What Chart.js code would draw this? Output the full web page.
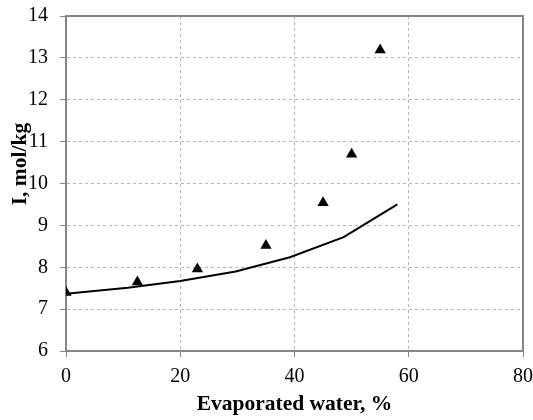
<!DOCTYPE html>
<html>
<head>
<meta charset="utf-8">
<script src="https://cdn.jsdelivr.net/npm/chart.js@4"></script>
<style>
html,body{margin:0;padding:0;background:#fff;}
#wrap{width:533px;height:420px;}
</style>
</head>
<body>
<div id="wrap"><canvas id="c" width="533" height="420"></canvas></div>
<script>
// Data
const expX = [0, 12.5, 23, 35, 45, 50, 55];
const expI = [7.40, 7.65, 7.96, 8.52, 9.54, 10.70, 13.19];
const calcX = [0, 10.8, 20, 29.7, 39.2, 48.6, 58];
const calcI = [7.37, 7.51, 7.67, 7.90, 8.24, 8.72, 9.50];
const xTicks = [0, 20, 40, 60, 80];
const yTicks = [6, 7, 8, 9, 10, 11, 12, 13, 14];
const xTitle = 'Evaporated water, %';
const yTitle = 'I, mol/kg';

const toPts = (xs, ys) => xs.map((x, i) => ({x: x, y: ys[i]}));
const FONT = "'Liberation Serif', 'Times New Roman', serif";
const GRID = '#b4b4b4';
const AXIS = '#868686';

const framePlugin = {
  id: 'frame',
  beforeDatasetsDraw(chart) {
    const {ctx, chartArea: a} = chart;
    ctx.save();
    ctx.strokeStyle = AXIS;
    ctx.lineWidth = 2;
    ctx.setLineDash([]);
    ctx.beginPath();
    ctx.moveTo(a.left, a.top);
    ctx.lineTo(a.right, a.top);
    ctx.lineTo(a.right, a.bottom);
    ctx.stroke();
    ctx.restore();
  }
};

// Y-axis title placed as in the reference (slightly above the plot centre)
const yTitlePlugin = {
  id: 'yTitle',
  afterDraw(chart) {
    const {ctx, chartArea: a} = chart;
    ctx.save();
    ctx.translate(26, a.top + (a.bottom - a.top) * 0.442);
    ctx.rotate(-Math.PI / 2);
    ctx.font = 'bold 21.5px ' + FONT;
    ctx.fillStyle = '#000';
    ctx.textAlign = 'center';
    ctx.textBaseline = 'alphabetic';
    ctx.fillText(yTitle, 0, 0);
    ctx.restore();
  }
};

new Chart(document.getElementById('c'), {
  type: 'scatter',
  data: {
    datasets: [
      {
        label: 'Calculated',
        data: toPts(calcX, calcI),
        showLine: true,
        borderColor: '#000',
        borderWidth: 2,
        pointRadius: 0,
        tension: 0,
        fill: false
      },
      {
        label: 'Experimental',
        data: toPts(expX, expI),
        pointStyle: 'triangle',
        pointRadius: 6.5,
        backgroundColor: '#000',
        borderColor: '#000',
        borderWidth: 0,
        showLine: false
      }
    ]
  },
  options: {
    responsive: false,
    animation: false,
    layout: {padding: {top: 16, right: 10, left: 0, bottom: 0}},
    plugins: {legend: {display: false}, tooltip: {enabled: false}},
    scales: {
      x: {
        type: 'linear',
        min: 0, max: 80,
        afterBuildTicks(s) { s.ticks = xTicks.map(v => ({value: v})); },
        afterFit(s) { s.height = 69; s.paddingLeft = 0; s.paddingRight = 0; },
        border: {display: true, color: AXIS, width: 2, dash: [3, 3]},
        grid: {color: GRID, tickLength: 6, tickColor: AXIS, tickBorderDash: [], drawTicks: true},
        ticks: {color: '#000', font: {family: FONT, size: 20}, padding: 8, maxRotation: 0},
        title: {display: true, text: xTitle, color: '#000',
                font: {family: FONT, size: 21.5, weight: 'bold'}, padding: {top: 4, bottom: 3}}
      },
      y: {
        type: 'linear',
        min: 6, max: 14,
        afterBuildTicks(s) { s.ticks = yTicks.map(v => ({value: v})); },
        afterFit(s) { s.width = 66; s.paddingTop = 0; s.paddingBottom = 0; },
        border: {display: true, color: AXIS, width: 2, dash: [3, 3]},
        grid: {color: GRID, tickLength: 6, tickColor: AXIS, tickBorderDash: []},
        ticks: {color: '#000', font: {family: FONT, size: 20}, padding: 12},
        title: {display: false}
      }
    }
  },
  plugins: [framePlugin, yTitlePlugin]
});
</script>
</body>
</html>
